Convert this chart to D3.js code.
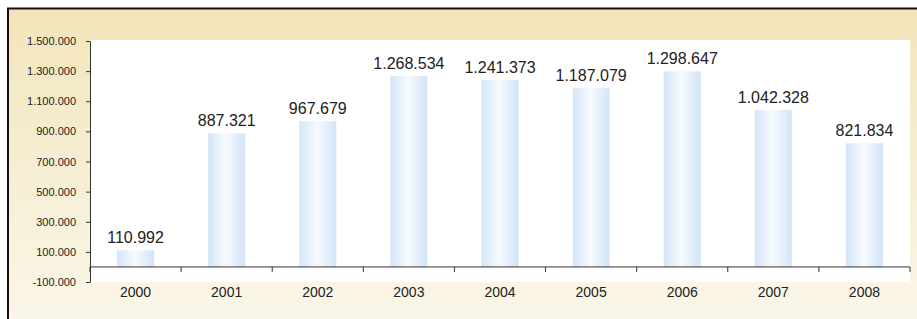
<!DOCTYPE html>
<html><head><meta charset="utf-8">
<script src="https://cdn.jsdelivr.net/npm/d3@7"></script>
<style>body{margin:0;background:#fff}svg{display:block}</style>
</head><body>
<script>
const categories = ["2000","2001","2002","2003","2004","2005","2006","2007","2008"];
const values = [110992, 887321, 967679, 1268534, 1241373, 1187079, 1298647, 1042328, 821834];
const labels = ["110.992","887.321","967.679","1.268.534","1.241.373","1.187.079","1.298.647","1.042.328","821.834"];
const yTicks = [-100000,100000,300000,500000,700000,900000,1100000,1300000,1500000];

const W=917,H=319;
const svg=d3.select("body").append("svg").attr("width",W).attr("height",H);
const defs=svg.append("defs");
const bg=defs.append("linearGradient").attr("id","bg").attr("x1",0).attr("y1",0).attr("x2",0).attr("y2",1);
bg.append("stop").attr("offset","0%").attr("stop-color","#f3e5ba");
bg.append("stop").attr("offset","45%").attr("stop-color","#f6edd0");
bg.append("stop").attr("offset","100%").attr("stop-color","#faf6e8");
const bar=defs.append("linearGradient").attr("id","bar").attr("x1",0).attr("y1",0).attr("x2",1).attr("y2",0);
bar.append("stop").attr("offset","0%").attr("stop-color","#d4e5f8");
bar.append("stop").attr("offset","48%").attr("stop-color","#f7fafe");
bar.append("stop").attr("offset","100%").attr("stop-color","#d2e4f8");

// frame
svg.append("rect").attr("x",8).attr("y",8).attr("width",W-8).attr("height",H-8).attr("fill","url(#bg)");
svg.append("line").attr("x1",7).attr("x2",W).attr("y1",8.5).attr("y2",8.5).attr("stroke","#111").attr("stroke-width",2);
svg.append("line").attr("x1",8).attr("x2",8).attr("y1",8).attr("y2",H).attr("stroke","#111").attr("stroke-width",2);

const x0=90,x1=910,yTop=41,yBot=282;
svg.append("rect").attr("x",x0+1).attr("y",yTop-1).attr("width",x1-x0-1).attr("height",yBot-yTop+1).attr("fill","#fff");

const x=d3.scaleBand().domain(categories).range([x0,x1]).paddingInner(0).paddingOuter(0);
const y=d3.scaleLinear().domain([-100000,1500000]).range([yBot,yTop]);
const bw=37;

svg.selectAll("rect.bar").data(values).enter().append("rect").attr("class","bar")
  .attr("x",(d,i)=>x(categories[i])+x.bandwidth()/2-bw/2)
  .attr("y",d=>y(d)).attr("width",bw).attr("height",d=>y(0)-y(d))
  .attr("fill","url(#bar)");

svg.selectAll("text.val").data(values).enter().append("text").attr("class","val")
  .attr("x",(d,i)=>x(categories[i])+x.bandwidth()/2)
  .attr("y",d=>y(d)-7).attr("text-anchor","middle")
  .attr("font-family","Liberation Sans, Arial, sans-serif").attr("font-size",16).attr("fill","#222")
  .text((d,i)=>labels[i]);

const fmt=d=>d3.format(",")(d).replace(/,/g,".").replace("\u2212","-");
const ya=svg.append("g").attr("transform",`translate(${x0},0)`)
  .call(d3.axisLeft(y).tickValues(yTicks).tickFormat(fmt).tickSize(4).tickPadding(10).tickSizeOuter(0));
ya.select(".domain").attr("stroke","#333");
ya.selectAll(".tick line").attr("stroke","#333");
ya.selectAll("text").attr("font-family","Liberation Sans, Arial, sans-serif").attr("font-size",11).attr("fill","#222");

const xa=svg.append("g").attr("transform",`translate(0,${y(0)})`);
xa.append("line").attr("x1",x0).attr("x2",x1).attr("stroke","#333");
const bounds=categories.map(c=>x(c)).concat([x1]);
xa.selectAll("line.t").data(bounds).enter().append("line").attr("class","t")
  .attr("x1",d=>d).attr("x2",d=>d).attr("y1",0).attr("y2",5).attr("stroke","#333");
svg.selectAll("text.cat").data(categories).enter().append("text").attr("class","cat")
  .attr("x",d=>x(d)+x.bandwidth()/2).attr("y",297).attr("text-anchor","middle")
  .attr("font-family","Liberation Sans, Arial, sans-serif").attr("font-size",14).attr("fill","#222")
  .text(d=>d);
</script>
</body></html>
